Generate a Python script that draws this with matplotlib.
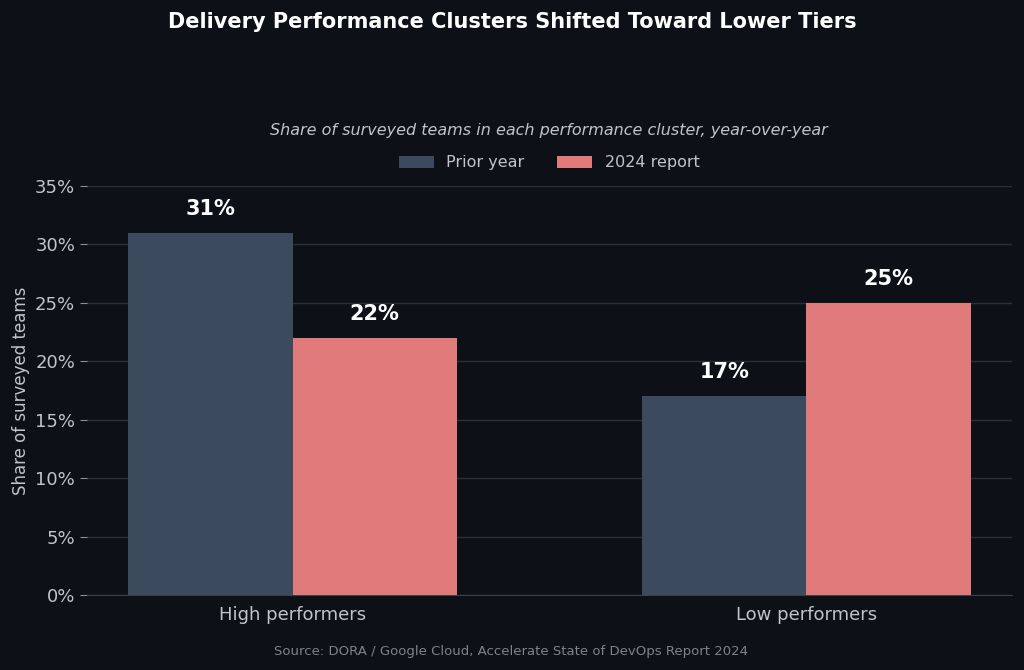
import numpy as np
import matplotlib.pyplot as plt

# Data
clusters = ["High performers", "Low performers"]
prior = [31, 17]
report_2024 = [22, 25]

bg = "#0d1017"
c_prior = "#3b4a5c"
c_2024 = "#e07a7b"
txt = "#c0c4cc"

fig = plt.figure(figsize=(10.24, 6.7), dpi=100, facecolor=bg)
ax = fig.add_axes([87/1024, 1-595/670, 925/1024, 409/670], facecolor=bg)

x = np.arange(len(clusters))
w = 0.32
b1 = ax.bar(x - w/2, prior, w, color=c_prior, label="Prior year", zorder=3)
b2 = ax.bar(x + w/2, report_2024, w, color=c_2024, label="2024 report", zorder=3)

for bars in (b1, b2):
    for r in bars:
        ax.text(r.get_x() + r.get_width()/2, r.get_height() + 1.2, f"{r.get_height():.0f}%",
                ha="center", va="bottom", color="white", fontsize=15, fontweight="bold")

ax.set_xlim(-0.4, 1.4)
ax.set_ylim(0, 35)
ax.set_yticks(range(0, 36, 5))
ax.set_yticklabels([f"{v}%" for v in range(0, 36, 5)])
ax.set_xticks(x)
ax.set_xticklabels(clusters)
ax.tick_params(colors=txt, labelsize=13)
ax.tick_params(axis="x", length=0, pad=8)
ax.tick_params(axis="y", color="#8a8f98", length=5)
ax.grid(axis="y", color="#2a2f38", linewidth=1, zorder=0)
for s in ax.spines.values():
    s.set_visible(False)
ax.spines["bottom"].set_visible(True)
ax.spines["bottom"].set_color("#3a3f48")
ax.set_ylabel("Share of surveyed teams", color=txt, fontsize=12)

fig.text(0.5, 1-22/670, "Delivery Performance Clusters Shifted Toward Lower Tiers",
         ha="center", va="center", color="white", fontsize=15, fontweight="bold")
fig.text(549/1024, 1-130/670, "Share of surveyed teams in each performance cluster, year-over-year",
         ha="center", va="center", color=txt, fontsize=11.5, style="italic")
leg = fig.legend(loc="center", bbox_to_anchor=(549/1024, 1-163/670), ncol=2, frameon=False,
                 fontsize=11.5, labelcolor=txt, handlelength=2.2, columnspacing=2)
fig.text(511/1024, 1-651/670, "Source: DORA / Google Cloud, Accelerate State of DevOps Report 2024",
         ha="center", va="center", color="#7d828b", fontsize=9.5)

fig.savefig("out.png", dpi=100, facecolor=bg)
